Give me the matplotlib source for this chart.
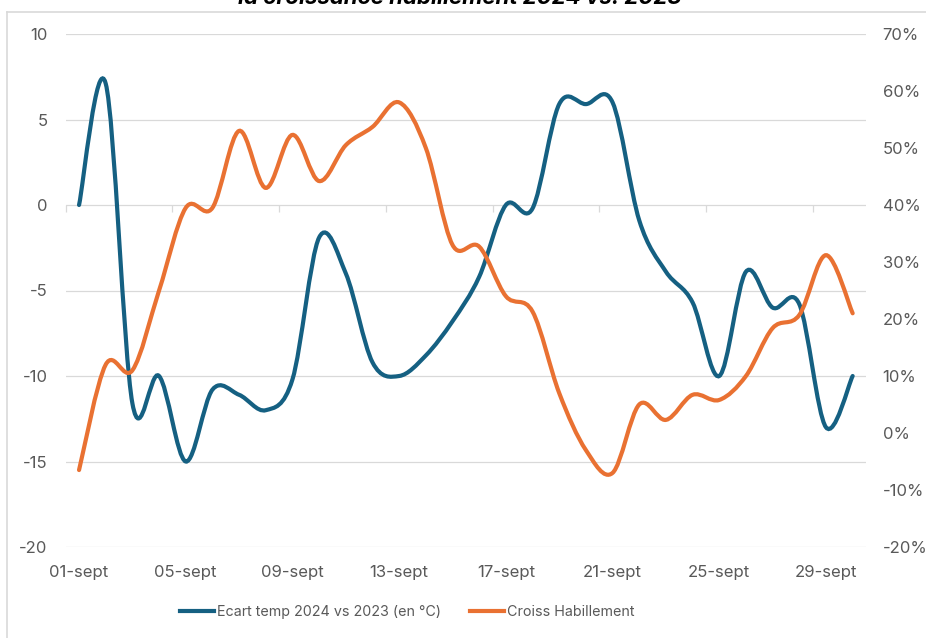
import numpy as np
import matplotlib
matplotlib.use("Agg")
import matplotlib.pyplot as plt
from matplotlib.path import Path
from matplotlib.patches import PathPatch
from matplotlib.lines import Line2D

plt.rcParams['font.family'] = ['Inter', 'DejaVu Sans']
plt.rcParams['axes.unicode_minus'] = False

# Data
days = list(range(1, 31))
tick_labels = ['01-sept', '05-sept', '09-sept', '13-sept', '17-sept', '21-sept', '25-sept', '29-sept']
ecart_temp = [0, 7.1, -11.6, -10, -15, -10.8, -11.1, -12, -10.2, -1.9,
              -4, -9.2, -10, -8.8, -6.8, -4.2, 0, -0.2, 5.9, 5.9,
              6.0, -0.9, -3.9, -5.7, -10, -3.9, -6.0, -5.8, -13, -10]
croiss_hab = [-6.5, 12, 11, 25, 39.5, 39.5, 53, 43, 52.3, 44.2,
              50.5, 53.7, 58, 50, 33, 32.7, 24, 21.3, 7, -3,
              -7, 5, 2.3, 6.7, 5.8, 10, 18.4, 20.7, 31.2, 21]

BLUE = '#156082'
ORANGE = '#E97132'
GRID = '#D9D9D9'
TXT = '#595959'


def smooth_path(x, y):
    # Excel-like smoothed line: Catmull-Rom segments as cubic Bezier curves
    p = np.column_stack([x, y]).astype(float)
    n = len(p)
    verts = [p[0]]
    codes = [Path.MOVETO]
    for i in range(n - 1):
        p0 = p[i - 1] if i > 0 else p[i]
        p1, p2 = p[i], p[i + 1]
        p3 = p[i + 2] if i + 2 < n else p[i + 1]
        verts += [p1 + (p2 - p0) / 6, p2 - (p3 - p1) / 6, p2]
        codes += [Path.CURVE4] * 3
    return Path(verts, codes)


fig = plt.figure(figsize=(9.26, 6.38), dpi=100)
ax = fig.add_axes([65.7 / 926, 1 - 547 / 638, 800.3 / 926, 513 / 638])
ax2 = ax.twinx()

ax.set_xlim(0.5, 30.5)
ax.set_ylim(-20, 10)
ax2.set_ylim(-20, 70)

ax.set_yticks(np.arange(-20, 11, 5))
ax2.set_yticks(np.arange(-20, 71, 10))
ax2.set_yticklabels([f'{v}%' for v in range(-20, 71, 10)])
ax.grid(axis='y', color=GRID, linewidth=0.9)
ax.set_axisbelow(True)

ax.set_xticks(days[::4])
ax.set_xticklabels(tick_labels)

for a in (ax, ax2):
    for s in a.spines.values():
        s.set_visible(False)
    a.tick_params(length=0, labelsize=12, labelcolor=TXT)
ax.tick_params(axis='y', pad=13)
ax2.tick_params(axis='y', pad=12)
ax.tick_params(axis='x', pad=13)

# category axis crossing at 0 with tick marks between groups
sec = ax.secondary_xaxis(2 / 3)
cross_ticks = np.arange(0.5, 30, 4)
sec.set_xticks(cross_ticks, labels=[''] * len(cross_ticks))
sec.tick_params(direction='out', length=5, color=GRID, width=0.9)
sec.xaxis.set_ticks_position('bottom')
sec.spines['bottom'].set_color(GRID)
sec.spines['bottom'].set_linewidth(0.9)
sec.spines['top'].set_visible(False)

ax.add_patch(PathPatch(smooth_path(days, ecart_temp), facecolor='none',
                       edgecolor=BLUE, linewidth=3, capstyle='round', zorder=3))
ax2.add_patch(PathPatch(smooth_path(days, croiss_hab), facecolor='none',
                        edgecolor=ORANGE, linewidth=3, capstyle='round', zorder=3))

handles = [Line2D([], [], color=BLUE, linewidth=3),
           Line2D([], [], color=ORANGE, linewidth=3)]
fig.legend(handles, ['Ecart temp 2024 vs 2023 (en °C)', 'Croiss Habillement'],
           loc='center', bbox_to_anchor=(407 / 926, 1 - 612 / 638), ncol=2,
           frameon=False, fontsize=10.3, labelcolor=TXT, handlelength=2.4,
           handletextpad=0.2, columnspacing=2.0)

# partially visible title and chart frame
fig.text(460 / 926, 1 - 4 / 638, 'la croissance habillement 2024 vs. 2023',
         ha='center', va='baseline', fontsize=16, fontweight='bold', style='italic')
fig.add_artist(Line2D([7 / 926, 1], [1 - 11.5 / 638] * 2, color=GRID, linewidth=1.2))
fig.add_artist(Line2D([7 / 926] * 2, [0, 1 - 11.5 / 638], color=GRID, linewidth=1.2))

fig.savefig('out.png', dpi=100)
